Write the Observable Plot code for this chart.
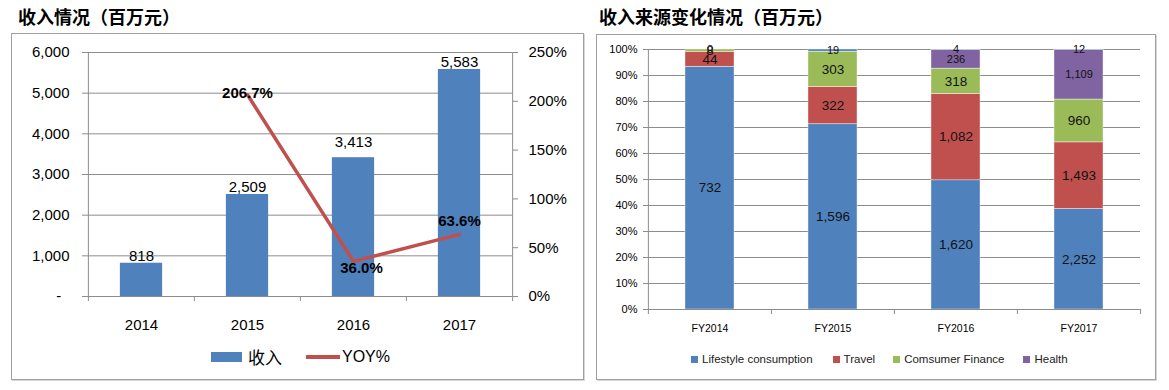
<!DOCTYPE html>
<html><head><meta charset="utf-8">
<script src="https://cdn.jsdelivr.net/npm/d3@7"></script>
<script src="https://cdn.jsdelivr.net/npm/@observablehq/plot@0.6"></script>
<style>
body{margin:0;background:#fff;font-family:"Liberation Sans",Arial,sans-serif;}
#root{position:relative;width:1169px;height:390px;overflow:hidden;background:#fff;}
.title{position:absolute;font-family:"Noto Sans CJK SC",sans-serif;font-weight:bold;font-size:18px;line-height:18px;color:#000;white-space:nowrap;}
.frame{position:absolute;border:1px solid #A0A0A0;box-sizing:border-box;box-shadow:1px 1px 0 #d8d8d8;}
.chart{position:absolute;}
.legend{position:absolute;display:flex;align-items:center;white-space:nowrap;color:#000;}
</style></head><body><div id="root">
<div class="title" style="left:18px;top:7px">收入情况（百万元）</div>
<div class="title" style="left:599px;top:7px">收入来源变化情况（百万元）</div>
<div class="frame" style="left:11px;top:33px;width:573px;height:347px"></div>
<div class="frame" style="left:596px;top:34px;width:560px;height:346px"></div>
<div id="c1" class="chart" style="left:12px;top:34px"></div>
<div id="c2" class="chart" style="left:597px;top:35px"></div>
<div id="l1" class="legend" style="left:211px;top:347px;height:20px"></div>
<div id="l2" class="legend" style="left:691px;top:351px;height:16px"></div>
</div>
<script>
// ---- data: left chart ----
const years = ["2014", "2015", "2016", "2017"];
const revenue = [818, 2509, 3413, 5583];
const yoy = [null, 206.7, 36.0, 63.6];
const leftTicks = [0, 1000, 2000, 3000, 4000, 5000, 6000];
const rightTicks = [0, 50, 100, 150, 200, 250];

// ---- data: right chart ----
const fyLabels = ["FY2014", "FY2015", "FY2016", "FY2017"];
const segments = ["Lifestyle consumption", "Travel", "Comsumer Finance", "Health", "Others"];
const lifestyle = [732, 1596, 1620, 2252];
const travel = [44, 322, 1082, 1493];
const consumerFinance = [8, 303, 318, 960];
const health = [0, 0, 236, 1109];
const others = [0, 19, 4, 12];
const pctTicks = [0, 0.1, 0.2, 0.3, 0.4, 0.5, 0.6, 0.7, 0.8, 0.9, 1];
const legendSegments = ["Lifestyle consumption", "Travel", "Comsumer Finance", "Health"];

const segColors = ["#4F81BD", "#C0504D", "#9BBB59", "#8064A2", "#4F81BD"];
const barBlue = "#4F81BD", lineRed = "#C0504D", gridGray = "#8C8C8C";
const fmt = d3.format(",");
const font = "'Liberation Sans', Arial, sans-serif";

// ---------- LEFT CHART ----------
const k = leftTicks[leftTicks.length - 1] / rightTicks[rightTicks.length - 1];
const W1 = 571, H1 = 312, ml1 = 75, mr1 = 71, mt1 = 18, mb1 = 50;
const bw1 = (W1 - ml1 - mr1) / years.length;
const revData = years.map((y, i) => ({year: y, value: revenue[i]}));
const yoyData = years.map((y, i) => ({year: y, yoy: yoy[i]})).filter(d => d.yoy != null);

const chart1 = Plot.plot({
  width: W1, height: H1, marginLeft: ml1, marginRight: mr1, marginTop: mt1, marginBottom: mb1,
  style: {fontFamily: font, fontSize: "15px", color: "#000", background: "transparent", overflow: "visible"},
  x: {domain: years, padding: 0, label: null},
  y: {domain: [0, 6000], label: null},
  marks: [
    Plot.ruleY(leftTicks.slice(1), {stroke: gridGray, strokeWidth: 1}),
    Plot.barY(revData, {x: "year", y: "value", fill: barBlue, insetLeft: bw1 * 0.3, insetRight: bw1 * 0.3}),
    Plot.ruleY([0], {stroke: gridGray}),
    Plot.ruleX([years[0]], {dx: -bw1 / 2, stroke: gridGray}),
    Plot.ruleX([years[years.length - 1]], {dx: bw1 / 2, stroke: gridGray}),
    Plot.ruleX(years, {dx: -bw1 / 2, y1: 0, y2: 0, insetBottom: -5, stroke: gridGray}),
    Plot.ruleX([years[years.length - 1]], {dx: bw1 / 2, y1: 0, y2: 0, insetBottom: -5, stroke: gridGray}),
    Plot.axisY({anchor: "left", ticks: leftTicks, tickFormat: d => d === 0 ? "-\u00a0\u00a0" : fmt(d),
      tickSize: 5, tickPadding: 13, stroke: gridGray, fill: "#000", fontSize: 15, label: null}),
    Plot.axisY({anchor: "right", ticks: rightTicks.map(v => v * k), tickFormat: d => Math.round(d / k) + "%",
      tickSize: 5, tickPadding: 11, stroke: gridGray, fill: "#000", fontSize: 15, label: null}),
    Plot.axisX({tickSize: 0, tickPadding: 23, fill: "#000", fontSize: 15, label: null}),
    Plot.line(yoyData, {x: "year", y: d => d.yoy * k, stroke: lineRed, strokeWidth: 3.5}),
    Plot.text(revData.filter(d => d.year !== "2016"), {x: "year", y: "value", text: d => fmt(d.value), dy: -7, fill: "#000", fontSize: 15}),
    Plot.text(revData.filter(d => d.year === "2016"), {x: "year", y: "value", text: d => fmt(d.value), dy: -16, fill: "#000", fontSize: 15}),
    Plot.text(yoyData.filter(d => d.year === "2015"), {x: "year", y: d => d.yoy * k, text: d => d.yoy.toFixed(1) + "%", dy: -2, fill: "#000", fontWeight: "bold", fontSize: 15}),
    Plot.text(yoyData.filter(d => d.year === "2016"), {x: "year", y: d => d.yoy * k, text: d => d.yoy.toFixed(1) + "%", dx: 8, dy: 7, fill: "#000", fontWeight: "bold", fontSize: 15}),
    Plot.text(yoyData.filter(d => d.year === "2017"), {x: "year", y: d => d.yoy * k, text: d => d.yoy.toFixed(1) + "%", dy: -13, fill: "#000", fontWeight: "bold", fontSize: 15})
  ]
});
document.getElementById("c1").append(chart1);

// left legend
const l1 = document.getElementById("l1");
l1.innerHTML =
  `<span style="display:inline-block;width:31px;height:10px;background:${barBlue}"></span>` +
  `<span style="margin-left:6px;font-family:'Noto Sans CJK SC',sans-serif;font-size:17px;line-height:20px">收入</span>` +
  `<span style="display:inline-block;width:34px;height:3.5px;background:${lineRed};margin-left:24px"></span>` +
  `<span style="margin-left:2px;font-size:16px;line-height:20px">YOY%</span>`;

// ---------- RIGHT CHART ----------
const W2 = 557, H2 = 308, ml2 = 50, mr2 = 14, mt2 = 14, mb2 = 34;
const bw2 = (W2 - ml2 - mr2) / fyLabels.length;
const seriesValues = [lifestyle, travel, consumerFinance, health, others];
const segData = [];
fyLabels.forEach((fy, i) => {
  segments.forEach((s, j) => segData.push({fy, series: s, value: seriesValues[j][i]}));
});
const small = new Set(["Health", "Others"]);

const chart2 = Plot.plot({
  width: W2, height: H2, marginLeft: ml2, marginRight: mr2, marginTop: mt2, marginBottom: mb2,
  style: {fontFamily: font, fontSize: "11px", color: "#000", background: "transparent", overflow: "visible"},
  x: {domain: fyLabels, padding: 0, label: null},
  y: {domain: [0, 1], label: null},
  color: {domain: segments, range: segColors},
  marks: [
    Plot.ruleY(pctTicks.slice(1), {stroke: gridGray, strokeWidth: 1}),
    Plot.barY(segData, Plot.stackY({offset: "normalize"}, {x: "fy", y: "value", fill: "series",
      insetLeft: bw2 * 0.3, insetRight: bw2 * 0.3, stroke: "#ffffff", strokeWidth: 0.6, strokeOpacity: 0.7})),
    Plot.ruleY([0], {stroke: gridGray}),
    Plot.ruleX([fyLabels[0]], {dx: -bw2 / 2, stroke: gridGray}),
    Plot.ruleX(fyLabels, {dx: -bw2 / 2, y1: 0, y2: 0, insetBottom: -5, stroke: gridGray}),
    Plot.ruleX([fyLabels[fyLabels.length - 1]], {dx: bw2 / 2, y1: 0, y2: 0, insetBottom: -5, stroke: gridGray}),
    Plot.axisY({anchor: "left", ticks: pctTicks, tickFormat: d3.format(".0%"), tickSize: 4, tickPadding: 6,
      stroke: gridGray, fill: "#000", fontSize: 11, label: null}),
    Plot.axisX({tickSize: 0, tickPadding: 15, fill: "#000", fontSize: 10.5, label: null}),
    Plot.text(segData, Plot.stackY({offset: "normalize"}, {x: "fy", y: "value", z: "series",
      text: d => (d.value === 0 && d.series === "Health") ? null : fmt(d.value),
      fill: "#111", fontSize: d => small.has(d.series) ? 11 : 13.5}))
  ]
});
document.getElementById("c2").append(chart2);

// right legend
const l2 = document.getElementById("l2");
const gaps = [20, 18, 19, 0];
l2.innerHTML = legendSegments.map((s, i) =>
  `<span style="display:inline-block;width:7px;height:7px;background:${segColors[i]}"></span>` +
  `<span style="margin-left:4px;margin-right:${gaps[i]}px;font-size:11.5px;line-height:16px;color:#222">${s}</span>`
).join("");
</script>
</body></html>
